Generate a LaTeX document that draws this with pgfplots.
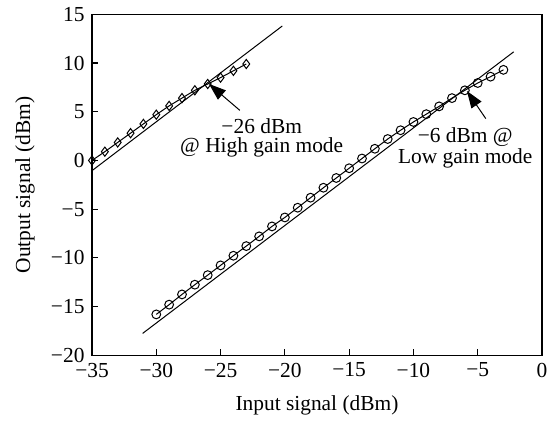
\documentclass[border=0pt]{standalone}
\usepackage{fontspec}
\setmainfont{Liberation Serif}
\usepackage{pgfplots}
\pgfplotsset{compat=1.18}
\usetikzlibrary{arrows.meta}

\begin{document}
\fontsize{10.7}{12.8}\selectfont
\begin{tikzpicture}
\begin{axis}[
    scale only axis,
    width=225pt,
    height=170.5pt,
    xmin=-35, xmax=0,
    ymin=-20, ymax=15,
    xtick={-35,-30,...,0},
    ytick={-20,-15,...,15},
    xticklabels={−35,−30,−25,−20,−15,−10,−5,0},
    yticklabels={−20,−15,−10,−5,0,5,10,15},
    tick align=inside,
    xtick pos=bottom,
    ytick pos=left,
    major tick length=3pt,
    axis line style={line width=0.6pt},
    tick style={line width=0.6pt, black},
    xlabel={Input signal (dBm)},
    ylabel={Output signal (dBm)},
    xlabel style={at={(rel axis cs:0.5,-0.147)}, anchor=center},
    ylabel style={at={(rel axis cs:-0.149,0.5)}, anchor=center},
    clip=false,
    every axis plot/.append style={black, line width=0.5pt},
]

% ideal lines
\addplot[no marks] coordinates {(-35,-1.05) (-20.2,13.8)};
\addplot[no marks] coordinates {(-31.06,-17.75) (-2.2,11.15)};

% high gain mode
\addplot[mark=diamond, mark size=2.3pt] coordinates {
    (-35,0.0) (-34,0.9) (-33,1.85) (-32,2.8) (-31,3.75) (-30,4.7)
    (-29,5.6) (-28,6.4) (-27,7.2) (-26,7.85) (-25,8.5) (-24,9.2) (-23,9.9)
};

% low gain mode
\addplot[mark=o, mark size=2.2pt] coordinates {
    (-30,-15.8) (-29,-14.8) (-28,-13.75) (-27,-12.75) (-26,-11.77)
    (-25,-10.77) (-24,-9.78) (-23,-8.79) (-22,-7.79) (-21,-6.77)
    (-20,-5.85) (-19,-4.85) (-18,-3.82) (-17,-2.8) (-16,-1.8)
    (-15,-0.8) (-14,0.2) (-13,1.2) (-12,2.2) (-11,3.1) (-10,3.95)
    (-9,4.75) (-8,5.55) (-7,6.4) (-6,7.2) (-5,7.95) (-4,8.6) (-3,9.3)
};

% annotations
\draw[-{Triangle[length=8.5pt,width=6pt]}, line width=0.5pt]
    (axis cs:-23.5,5.14) -- (axis cs:-25.9,7.85);
\draw[-{Triangle[length=8.5pt,width=6pt]}, line width=0.5pt]
    (axis cs:-4.37,4.29) -- (axis cs:-5.84,7.13);
\node[align=center, font=\fontsize{10.7}{9.6}\selectfont]
    at (axis cs:-21.8,2.3) {−26 dBm\\@ High gain mode};
\node[align=center, font=\fontsize{10.7}{10.5}\selectfont]
    at (axis cs:-5.97,1.3) {−6 dBm @\\Low gain mode};

\path (rel axis cs:-0.2044,-0.1906) rectangle (rel axis cs:1.0311,1.0411);
\end{axis}
\end{tikzpicture}
\end{document}
